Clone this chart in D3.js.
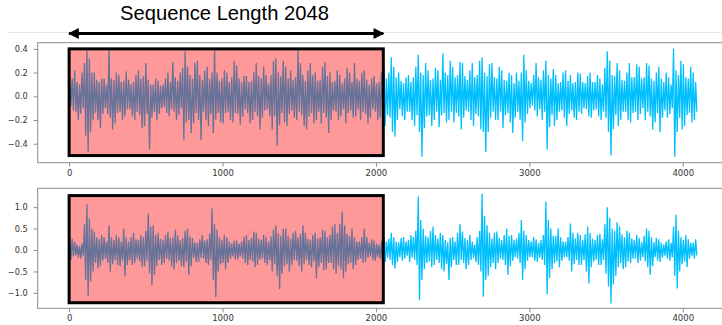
<!DOCTYPE html>
<html>
<head>
<meta charset="utf-8">
<script src="https://cdn.jsdelivr.net/npm/d3@7"></script>
<style>
  html, body { margin: 0; padding: 0; background: #fff; }
  svg { display: block; }
</style>
</head>
<body>
<div id="chart"></div>
<script>
// waveform envelopes: max / min of each 16-sample bin
const binSize = 16;
const seqLength = 2048;

const topHi = [0.1,0.15, 0.22,0.12, 0.1,0.2, 0.28,0.39, 0.32,0.2, 0.2,0.14, 0.12,0.15, 0.15,0.1, 0.39,0.15, 0.14,0.2,
  0.18,0.12, 0.13,0.21, 0.14,0.1, 0.12,0.18, 0.22,0.15, 0.17,0.28, 0.14,0.1, 0.1,0.15, 0.13,0.09, 0.1,0.15,
  0.2,0.12, 0.29,0.16, 0.13,0.2, 0.24,0.38, 0.25,0.18, 0.15,0.28, 0.3,0.18, 0.14,0.22, 0.25,0.15, 0.2,0.39,
  0.2,0.13, 0.15,0.22, 0.2,0.12, 0.16,0.3, 0.26,0.15, 0.12,0.17, 0.17,0.12, 0.13,0.2, 0.28,0.17, 0.15,0.25,
  0.18,0.11, 0.18,0.3, 0.32,0.2, 0.17,0.3, 0.25,0.15, 0.22,0.14, 0.16,0.39, 0.28,0.18, 0.13,0.22, 0.28,0.18,
  0.2,0.13, 0.14,0.25, 0.29,0.17, 0.2,0.12, 0.13,0.22, 0.18,0.11, 0.15,0.24, 0.2,0.12, 0.28,0.15, 0.13,0.2,
  0.22,0.14, 0.1,0.15, 0.17,0.11, 0.12,0.2, 0.25,0.15, 0.2,0.33, 0.25,0.16, 0.2,0.13, 0.11,0.16, 0.18,0.12,
  0.16,0.25, 0.35,0.2, 0.18,0.28, 0.22,0.14, 0.15,0.24, 0.22,0.14, 0.36,0.2, 0.18,0.3, 0.25,0.16, 0.18,0.29,
  0.28,0.17, 0.14,0.22, 0.28,0.16, 0.18,0.3, 0.33,0.2, 0.17,0.27, 0.28,0.16, 0.15,0.25, 0.22,0.14, 0.13,0.2,
  0.18,0.11, 0.2,0.13, 0.2,0.35, 0.22,0.13, 0.11,0.18, 0.28,0.16, 0.14,0.22, 0.3,0.18, 0.15,0.23, 0.18,0.11,
  0.12,0.2, 0.22,0.13, 0.18,0.11, 0.12,0.2, 0.19,0.12, 0.11,0.17, 0.2,0.12, 0.12,0.18, 0.15,0.1, 0.24,0.38,
  0.3,0.18, 0.17,0.28, 0.22,0.14, 0.13,0.2, 0.28,0.16, 0.16,0.27, 0.25,0.15, 0.16,0.28, 0.26,0.15, 0.13,0.2,
  0.25,0.15, 0.12,0.2, 0.16,0.1, 0.4,0.22, 0.18,0.3, 0.27,0.16, 0.15,0.25, 0.2,0.12];
const topLo = [-0.08,-0.12, -0.13,-0.2, -0.15,-0.1, -0.33,-0.47, -0.3,-0.2, -0.14,-0.2, -0.27,-0.15, -0.1,-0.15, -0.18,-0.28, -0.23,-0.14,
  -0.13,-0.2, -0.17,-0.11, -0.11,-0.17, -0.2,-0.13, -0.16,-0.27, -0.25,-0.15, -0.45,-0.18, -0.13,-0.2, -0.15,-0.1, -0.09,-0.14,
  -0.17,-0.11, -0.13,-0.2, -0.16,-0.1, -0.37,-0.22, -0.2,-0.31, -0.23,-0.14, -0.2,-0.37, -0.13,-0.2, -0.25,-0.15, -0.31,-0.2,
  -0.14,-0.22, -0.23,-0.14, -0.13,-0.2, -0.22,-0.14, -0.15,-0.24, -0.17,-0.11, -0.14,-0.23, -0.2,-0.13, -0.17,-0.28, -0.18,-0.12,
  -0.11,-0.17, -0.28,-0.17, -0.42,-0.24, -0.14,-0.22, -0.25,-0.15, -0.12,-0.18, -0.2,-0.13, -0.16,-0.25, -0.28,-0.17, -0.14,-0.23,
  -0.2,-0.13, -0.23,-0.14, -0.18,-0.31, -0.2,-0.12, -0.13,-0.2, -0.17,-0.11, -0.23,-0.14, -0.12,-0.18, -0.17,-0.11, -0.2,-0.13,
  -0.15,-0.23, -0.18,-0.11, -0.13,-0.2, -0.18,-0.12, -0.25,-0.16, -0.18,-0.3, -0.34,-0.2, -0.11,-0.17, -0.2,-0.13, -0.13,-0.2,
  -0.25,-0.16, -0.3,-0.51, -0.27,-0.17, -0.16,-0.25, -0.2,-0.13, -0.26,-0.16, -0.14,-0.22, -0.2,-0.13, -0.22,-0.14, -0.17,-0.28,
  -0.18,-0.12, -0.13,-0.2, -0.25,-0.15, -0.17,-0.28, -0.3,-0.47, -0.3,-0.18, -0.13,-0.2, -0.2,-0.13, -0.27,-0.16, -0.14,-0.22,
  -0.31,-0.18, -0.13,-0.2, -0.38,-0.22, -0.15,-0.1, -0.08,-0.12, -0.17,-0.11, -0.2,-0.13, -0.45,-0.26, -0.16,-0.25, -0.2,-0.13,
  -0.12,-0.18, -0.25,-0.15, -0.12,-0.18, -0.2,-0.13, -0.15,-0.1, -0.11,-0.17, -0.18,-0.12, -0.11,-0.17, -0.2,-0.13, -0.18,-0.3,
  -0.5,-0.28, -0.16,-0.25, -0.2,-0.13, -0.13,-0.2, -0.22,-0.14, -0.13,-0.2, -0.15,-0.1, -0.2,-0.13, -0.17,-0.28, -0.22,-0.14,
  -0.3,-0.18, -0.12,-0.18, -0.15,-0.1, -0.51,-0.3, -0.18,-0.28, -0.25,-0.16, -0.14,-0.22, -0.2,-0.13];

const botHi = [0.18,0.27, 0.2,0.13, 0.1,0.15, 0.6,1.07, 0.74,0.5, 0.43,0.3, 0.25,0.35, 0.3,0.2, 0.58,0.3, 0.24,0.35,
  0.3,0.2, 0.5,0.3, 0.2,0.3, 0.4,0.25, 0.24,0.35, 0.3,0.45, 0.86,0.55, 0.58,0.35, 0.4,0.26, 0.24,0.35,
  0.43,0.28, 0.3,0.47, 0.35,0.23, 0.28,0.45, 0.5,0.32, 0.28,0.18, 0.17,0.25, 0.35,0.22, 0.25,0.38, 0.97,0.6,
  0.47,0.3, 0.24,0.35, 0.3,0.2, 0.15,0.22, 0.22,0.15, 0.2,0.31, 0.35,0.23, 0.28,0.43, 0.4,0.26, 0.24,0.35,
  0.3,0.2, 0.32,0.47, 0.58,0.38, 0.34,0.5, 0.5,0.33, 0.27,0.4, 0.45,0.3, 0.38,0.58, 0.4,0.26, 0.24,0.35,
  0.4,0.27, 0.3,0.47, 0.45,0.3, 0.35,0.55, 0.6,0.4, 0.6,0.9, 0.58,0.38, 0.33,0.5, 0.3,0.2, 0.2,0.3,
  0.5,0.3, 0.17,0.25, 0.22,0.15, 0.13,0.2, 0.3,0.2, 0.27,0.4, 0.3,0.2, 0.18,0.28, 0.3,0.2, 0.24,0.35,
  0.3,0.45, 1.25,0.7, 0.5,0.33, 0.3,0.45, 0.55,0.35, 0.27,0.4, 0.35,0.23, 0.18,0.28, 0.3,0.2, 0.4,0.6,
  0.43,0.28, 0.23,0.35, 0.2,0.13, 0.3,0.45, 1.32,0.8, 0.58,0.4, 0.27,0.4, 0.43,0.28, 0.23,0.35, 0.5,0.33,
  0.35,0.23, 0.27,0.4, 0.7,0.45, 0.35,0.23, 0.2,0.3, 0.25,0.17, 0.23,0.35, 1.13,0.7, 0.5,0.33, 0.33,0.5,
  0.3,0.2, 0.2,0.3, 0.62,0.4, 0.27,0.4, 0.35,0.23, 0.37,0.55, 0.4,0.27, 0.23,0.35, 0.38,0.25, 0.6,1.0,
  0.75,0.5, 0.45,0.65, 0.55,0.37, 0.3,0.45, 0.4,0.27, 0.23,0.35, 0.28,0.18, 0.33,0.5, 0.45,0.3, 0.18,0.28,
  0.25,0.17, 0.13,0.2, 0.25,0.17, 0.55,0.82, 0.45,0.3, 0.23,0.35, 0.25,0.17, 0.17,0.25];
const botLo = [-0.23,-0.15, -0.12,-0.18, -0.2,-0.13, -0.7,-1.07, -0.74,-0.5, -0.3,-0.43, -0.38,-0.25, -0.2,-0.3, -0.5,-0.33, -0.23,-0.35,
  -0.38,-0.25, -0.62,-0.35, -0.23,-0.35, -0.3,-0.2, -0.27,-0.4, -0.38,-0.25, -0.55,-0.82, -0.58,-0.38, -0.23,-0.35, -0.3,-0.2,
  -0.25,-0.38, -0.45,-0.3, -0.25,-0.38, -0.4,-0.27, -0.58,-0.38, -0.18,-0.28, -0.27,-0.18, -0.2,-0.3, -0.35,-0.23, -0.7,-1.1,
  -0.5,-0.33, -0.3,-0.45, -0.3,-0.2, -0.15,-0.22, -0.22,-0.15, -0.2,-0.3, -0.35,-0.23, -0.27,-0.4, -0.35,-0.23, -0.2,-0.3,
  -0.35,-0.23, -0.5,-0.33, -0.6,-0.91, -0.55,-0.37, -0.33,-0.5, -0.35,-0.23, -0.25,-0.38, -0.5,-0.33, -0.23,-0.35, -0.4,-0.27,
  -0.66,-0.4, -0.3,-0.47, -0.45,-0.3, -0.3,-0.45, -0.55,-0.37, -0.45,-0.66, -0.5,-0.33, -0.3,-0.45, -0.35,-0.23, -0.2,-0.3,
  -0.28,-0.18, -0.15,-0.23, -0.25,-0.17, -0.2,-0.35, -0.28,-0.18, -0.23,-0.35, -0.43,-0.28, -0.17,-0.25, -0.2,-0.13, -0.28,-0.18,
  -0.23,-0.35, -1.17,-0.7, -0.45,-0.3, -0.27,-0.4, -0.35,-0.23, -0.3,-0.45, -0.5,-0.33, -0.7,-0.4, -0.23,-0.35, -0.35,-0.23,
  -0.3,-0.45, -0.35,-0.23, -0.18,-0.28, -0.35,-0.5, -1.09,-0.7, -0.6,-0.4, -0.3,-0.45, -0.3,-0.2, -0.23,-0.35, -0.58,-0.38,
  -0.25,-0.17, -0.2,-0.3, -0.7,-0.45, -0.25,-0.17, -0.17,-0.25, -0.28,-0.18, -0.23,-0.35, -1.03,-0.65, -0.45,-0.3, -0.27,-0.4,
  -0.25,-0.17, -0.17,-0.25, -0.5,-0.33, -0.23,-0.35, -0.35,-0.23, -0.5,-0.78, -0.4,-0.27, -0.23,-0.35, -0.35,-0.23, -0.55,-0.85,
  -1.25,-0.8, -0.6,-0.4, -0.3,-0.45, -0.4,-0.27, -0.3,-0.2, -0.2,-0.3, -0.25,-0.17, -0.27,-0.4, -0.58,-0.38, -0.17,-0.25,
  -0.28,-0.18, -0.13,-0.2, -0.25,-0.17, -0.6,-0.9, -0.5,-0.33, -0.27,-0.4, -0.2,-0.13, -0.2,-0.13];

const xTicks = [0, 1000, 2000, 3000, 4000];
const topTicks = [-0.4, -0.2, 0.0, 0.2, 0.4];
const botTicks = [-1.0, -0.5, 0.0, 0.5, 1.0];

const width = 722, height = 325;
const svg = d3.select("#chart").append("svg")
  .attr("width", width).attr("height", height);

// faint separator line behind the arrow
svg.append("line")
  .attr("x1", 8).attr("x2", width).attr("y1", 32.5).attr("y2", 32.5)
  .attr("stroke", "#e6e6e6").attr("stroke-width", 1);

// x scale shared by both panels (matplotlib 5% margins, right side cut off)
const x = d3.scaleLinear().domain([-204.8, 4300.8]).range([37.7, 728.9]);

// title + double arrow
svg.append("text")
  .attr("x", 224.5).attr("y", 19.5)
  .attr("text-anchor", "middle")
  .attr("font-family", "'Liberation Sans', Arial, sans-serif")
  .attr("font-size", 20.2)
  .attr("fill", "#000")
  .text("Sequence Length 2048");

const defs = svg.append("defs");
["start", "end"].forEach(k => {
  defs.append("marker")
    .attr("id", "arrow-" + k)
    .attr("viewBox", "0 0 10 10")
    .attr("refX", k == "end" ? 9 : 1).attr("refY", 5)
    .attr("markerWidth", 4.2).attr("markerHeight", 3.6)
    .attr("markerUnits", "strokeWidth")
    .attr("orient", "auto")
    .append("path")
    .attr("d", k == "end" ? "M0,0L10,5L0,10Z" : "M10,0L0,5L10,10Z")
    .attr("fill", "#000");
});
svg.append("line")
  .attr("x1", x(0)).attr("x2", x(seqLength))
  .attr("y1", 33.5).attr("y2", 33.5)
  .attr("stroke", "#000").attr("stroke-width", 3)
  .attr("marker-start", "url(#arrow-start)")
  .attr("marker-end", "url(#arrow-end)");

// each bin gives its max then its min
function toPoints(hi, lo) {
  const pts = [];
  hi.forEach((h, i) => {
    pts.push([i * binSize + 4, h]);
    pts.push([i * binSize + 12, lo[i]]);
  });
  return pts;
}

function panel(top, bottom, yDomain, hi, lo, ticks, box) {
  const g = svg.append("g");
  const y = d3.scaleLinear().domain(yDomain).range([bottom, top]);

  const line = d3.line().x(d => x(d[0])).y(d => y(d[1]));
  g.append("path")
    .datum(toPoints(hi, lo))
    .attr("d", line)
    .attr("fill", "none")
    .attr("stroke", "#00bfff")
    .attr("stroke-width", 1.3)
    .attr("stroke-linejoin", "miter");

  // highlighted input window
  g.append("rect")
    .attr("x", x(0)).attr("y", y(box[1]))
    .attr("width", x(seqLength) - x(0))
    .attr("height", y(box[0]) - y(box[1]))
    .attr("fill", "rgba(255,0,0,0.4)")
    .attr("stroke", "#000").attr("stroke-width", 3);

  // frame (right side runs off the page)
  g.append("rect")
    .attr("x", 37.7).attr("y", top)
    .attr("width", 728.9 - 37.7).attr("height", bottom - top)
    .attr("fill", "none").attr("stroke", "#8c8c8c").attr("stroke-width", 1);

  const gy = g.append("g").attr("transform", "translate(37.7,0)")
    .call(d3.axisLeft(y).tickValues(ticks).tickFormat(d3.format(".1f")).tickSize(4).tickPadding(6));
  const gx = g.append("g").attr("transform", `translate(0,${bottom})`)
    .call(d3.axisBottom(x).tickValues(xTicks).tickFormat(d3.format("d")).tickSize(4).tickPadding(3));
  [gx, gy].forEach(a => {
    a.select(".domain").remove();
    a.selectAll("line").attr("stroke", "#8c8c8c");
    a.selectAll("text")
      .attr("font-family", "'DejaVu Sans', sans-serif")
      .attr("fill", "#333");
  });
  gx.selectAll("text").attr("font-size", 8.5);
  gy.selectAll("text").attr("font-size", 8.2);
}

panel(42.7, 162.7, [-0.56, 0.452], topHi, topLo, topTicks, [-0.5, 0.4]);
panel(188.3, 308.3, [-1.36, 1.44], botHi, botLo, botTicks, [-1.23, 1.27]);
</script>
</body>
</html>
